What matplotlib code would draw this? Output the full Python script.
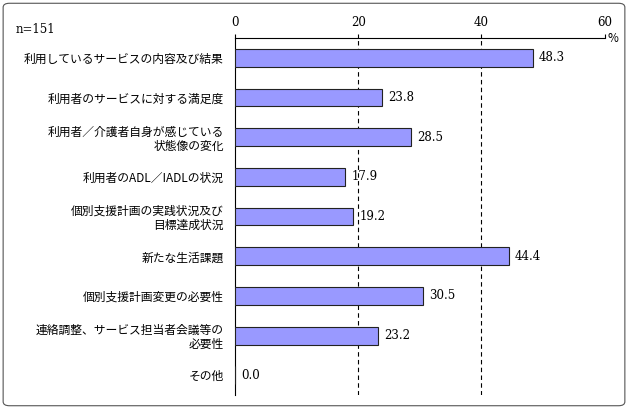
import matplotlib.pyplot as plt
from matplotlib.patches import FancyBboxPatch

plt.rcParams['font.family'] = ['Noto Sans CJK JP']

categories = [
    '利用しているサービスの内容及び結果',
    '利用者のサービスに対する満足度',
    '利用者／介護者自身が感じている\n状態像の変化',
    '利用者のADL／IADLの状況',
    '個別支援計画の実践状況及び\n目標達成状況',
    '新たな生活課題',
    '個別支援計画変更の必要性',
    '連絡調整、サービス担当者会議等の\n必要性',
    'その他',
]
values = [48.3, 23.8, 28.5, 17.9, 19.2, 44.4, 30.5, 23.2, 0.0]
ticks = [0, 20, 40, 60]

fig = plt.figure(figsize=(6.28, 4.09), dpi=100)
fig.patches.append(FancyBboxPatch((0.005, 0.008), 0.99, 0.984, boxstyle='round,pad=0,rounding_size=0.01',
                                  transform=fig.transFigure, fill=False, edgecolor='#555555', linewidth=0.8))
ax = fig.add_axes([0.374, 0.034, 0.589, 0.873])

y = range(len(categories))
ax.barh(y, values, height=0.45, color='#9999ff', edgecolor='#222222', linewidth=0.8, zorder=3)
for yi, v in zip(y, values):
    ax.text(v + 1, yi, f'{v:.1f}', va='center', ha='left', fontsize=8.5, family='DejaVu Serif')

ax.set_xlim(0, 60)
ax.set_ylim(len(categories) - 0.5, -0.5)
ax.set_yticks(list(y))
ax.set_yticklabels(categories, fontsize=8.5, linespacing=1.1)
ax.set_xticks(ticks)
ax.xaxis.tick_top()
ax.tick_params(axis='x', labelsize=8.5, length=3, direction='out')
ax.tick_params(axis='y', length=0, pad=8)
for lab in ax.get_xticklabels():
    lab.set_family('DejaVu Serif')
for g in [20, 40]:
    ax.axvline(g, color='black', linestyle=(0, (4, 3)), linewidth=0.8, zorder=1)
for s in ['right', 'bottom']:
    ax.spines[s].set_visible(False)
fig.text(0.968, 0.905, '%', ha='left', va='center', fontsize=8.5)
fig.text(0.025, 0.92, 'n=151', fontsize=8.5, family='DejaVu Serif')

fig.savefig('out.png', dpi=100)
